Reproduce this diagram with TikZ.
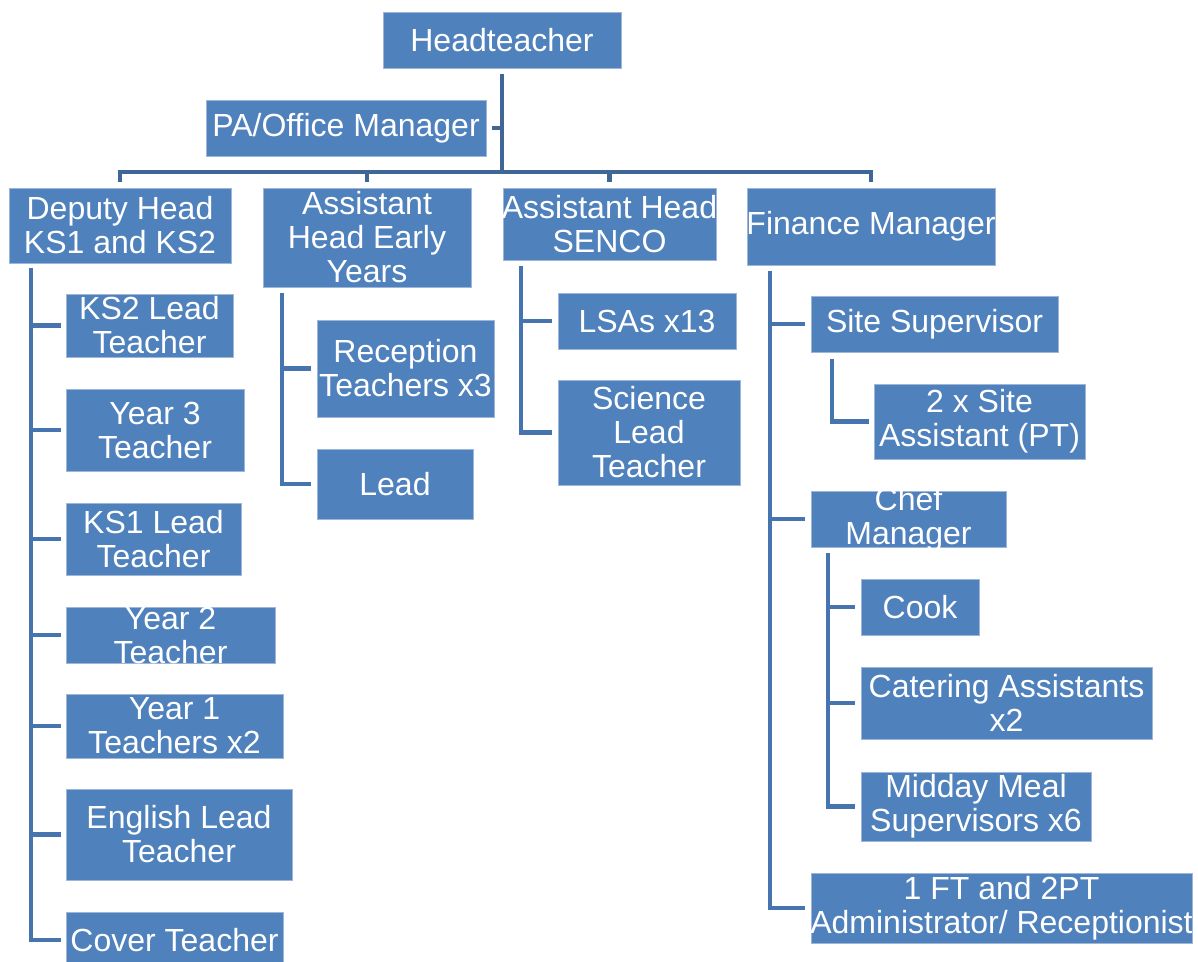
\documentclass[tikz,border=0pt]{standalone}
\usepackage{fontspec}
\setmainfont{Liberation Sans}
\usetikzlibrary{fit,calc}
\definecolor{boxblue}{HTML}{4F81BD}
\definecolor{boxedge}{HTML}{9DB6D9}
\definecolor{busblue}{HTML}{3F6697}
\definecolor{lineblue}{HTML}{4674AE}
\tikzset{
  orgfill/.style={fill=boxblue, draw=boxedge, line width=0.5pt, inner sep=0pt},
  orgtext/.style={text=white, align=center, inner sep=0pt,
    font=\fontsize{24}{25.5}\selectfont},
  bus/.style={draw=busblue, line width=3.6pt},
  conn/.style={draw=lineblue, line width=3.6pt},
}
\newcommand{\orgbox}[6]{%
  \node[orgfill, fit={(#2,#3) (#4,#5)}] (#1) {};
  \node[orgtext] (#1-t) at (#1.center) {#6};}
\begin{document}
\begin{tikzpicture}[x=0.75pt,y=-0.75pt]
\clip (0,0) rectangle (1198,962);
\fill[white] (0,0) rectangle (1198,962);
% boxes
\orgbox{head}{383}{12}{621}{68}{Headteacher}
\orgbox{pa}{206}{100}{486}{156}{PA/Office Manager}
\orgbox{dep}{9}{188}{231}{263}{Deputy Head\\KS1 and KS2}
\orgbox{eyh}{263}{188}{471}{287}{Assistant\\Head Early\\Years}
\orgbox{sen}{503}{188}{716}{260}{Assistant Head\\SENCO}
\orgbox{fin}{747}{188}{995}{265}{Finance Manager}
% deputy children
\orgbox{ks2}{66}{294}{233}{357}{KS2 Lead\\Teacher}
\orgbox{y3}{66}{389}{244}{471}{Year 3\\Teacher}
\orgbox{ks1}{66}{503}{241}{575}{KS1 Lead\\Teacher}
\orgbox{y2}{66}{607}{275}{663}{Year 2\\Teacher}
\orgbox{y1}{66}{694}{283}{758}{Year 1\\Teachers x2}
\orgbox{eng}{66}{789}{292}{880}{English Lead\\Teacher}
\orgbox{cov}{66}{912}{283}{968}{Cover Teacher}
% early years children
\orgbox{rec}{317}{320}{494}{417}{Reception\\Teachers x3}
\orgbox{lead}{317}{449}{473}{519}{Lead}
% senco children
\orgbox{lsa}{558}{293}{736}{349}{LSAs x13}
\orgbox{sci}{558}{380}{740}{485}{Science\\Lead\\Teacher}
% finance children
\orgbox{site}{811}{296}{1058}{352}{Site Supervisor}
\orgbox{siteas}{874}{384}{1085}{459}{2 x Site\\Assistant (PT)}
\orgbox{chef}{811}{491}{1006}{547}{Chef\\Manager}
\orgbox{cook}{861}{579}{979}{635}{Cook}
\orgbox{cat}{861}{667}{1152}{739}{Catering Assistants\\x2}
\orgbox{mid}{861}{772}{1091}{841}{Midday Meal\\Supervisors x6}
\orgbox{adm}{811}{873}{1192}{943}{1 FT and 2PT\\Administrator/ Receptionist}
% top connectors
\coordinate (busL) at (119,172);
\draw[bus] ($(head.south)+(0,6)$) -- (head.south |- busL);
\draw[bus] ($(pa.east)+(6,0)$) -- (head.south |- pa.east);
\draw[bus] ($(dep.north)+(0,-6)$) -- (dep.north |- busL) -- (fin.north |- busL) -- ($(fin.north)+(0,-6)$);
\draw[bus] ($(eyh.north)+(0,-6)$) -- (eyh.north |- busL);
\draw[bus] ($(sen.north)+(0,-6)$) -- (sen.north |- busL);
% deputy branch
\coordinate (depv) at (31,268);
\draw[conn] (depv) |- ($(cov.west)+(-5,0)$);
\foreach \c in {ks2,y3,ks1,y2,y1,eng}
  \draw[conn] (depv |- \c.west) -- ($(\c.west)+(-5,0)$);
% early years branch
\coordinate (eyv) at (282,293);
\draw[conn] (eyv) |- ($(lead.west)+(-6,0)$);
\draw[conn] (eyv |- rec.west) -- ($(rec.west)+(-6,0)$);
% senco branch
\coordinate (senv) at (521,266);
\draw[conn] (senv) |- ($(sci.west)+(-6,0)$);
\draw[conn] (senv |- lsa.west) -- ($(lsa.west)+(-6,0)$);
% finance branch
\coordinate (finv) at (770,271);
\draw[conn] (finv) |- ($(adm.west)+(-6,0)$);
\draw[conn] (finv |- site.west) -- ($(site.west)+(-6,0)$);
\draw[conn] (finv |- chef.west) -- ($(chef.west)+(-6,0)$);
% site branch
\coordinate (sitev) at (832,359);
\draw[conn] (sitev) |- ($(siteas.west)+(-5,0)$);
% chef branch
\coordinate (chefv) at (828,553);
\draw[conn] (chefv) |- ($(mid.west)+(-6,0)$);
\draw[conn] (chefv |- cook.west) -- ($(cook.west)+(-6,0)$);
\draw[conn] (chefv |- cat.west) -- ($(cat.west)+(-6,0)$);
\end{tikzpicture}
\end{document}
